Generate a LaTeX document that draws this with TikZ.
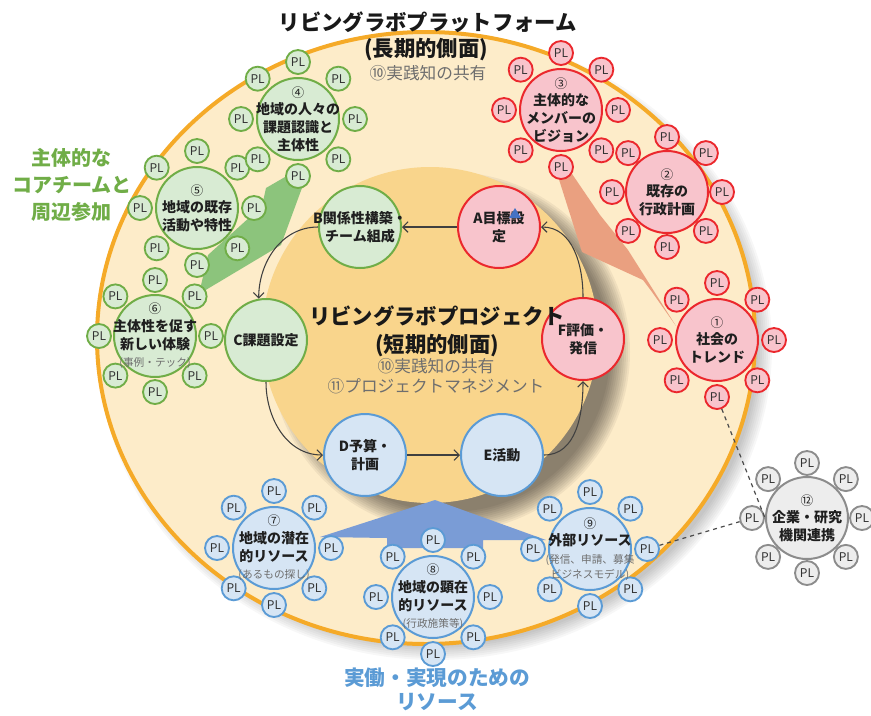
\documentclass[tikz,border=0pt]{standalone}
\usepackage{fontspec}
\setmainfont{Noto Sans CJK JP}
\usetikzlibrary{calc,arrows.meta}
\definecolor{orangeB}{RGB}{245,170,40}
\definecolor{outerF}{RGB}{253,236,201}
\definecolor{innerF}{RGB}{249,213,140}
\definecolor{gB}{RGB}{112,173,71}
\definecolor{gF}{RGB}{216,235,211}
\definecolor{rB}{RGB}{235,40,45}
\definecolor{rF}{RGB}{248,196,204}
\definecolor{bB}{RGB}{91,155,213}
\definecolor{bF}{RGB}{214,229,244}
\definecolor{kB}{RGB}{140,140,140}
\definecolor{kF}{RGB}{237,237,237}
\definecolor{gBolt}{RGB}{140,196,124}
\definecolor{rBolt}{RGB}{234,160,128}
\definecolor{bBolt}{RGB}{122,156,214}
\definecolor{gLabel}{RGB}{112,173,71}
\definecolor{bLabel}{RGB}{91,155,213}
\definecolor{subgray}{RGB}{110,110,110}
\definecolor{plText}{RGB}{50,50,50}
\definecolor{triBlue}{RGB}{68,114,196}
\tikzset{
  bigbase/.style={circle, line width=1.5pt, minimum size=61.5pt, inner sep=0pt},
  bigg/.style={bigbase, draw=gB, fill=gF},
  bigr/.style={bigbase, draw=rB, fill=rF},
  bigb/.style={bigbase, draw=bB, fill=bF},
  bigk/.style={bigbase, draw=kB, fill=kF},
  plbase/.style={circle, line width=1.4pt, minimum size=18pt, inner sep=0pt, text=plText, font=\fontsize{9}{10}\selectfont},
  plg/.style={plbase, draw=gB, fill=gF},
  plr/.style={plbase, draw=rB, fill=rF},
  plb/.style={plbase, draw=bB, fill=bF},
  plk/.style={plbase, draw=kB, fill=kF},
  ctext/.style={align=center, text=black!88, font=\bfseries\fontsize{10.5}{13.2}\selectfont},
  cyc/.style={draw=black!75, line width=0.8pt, -{Straight Barb[length=4pt,width=8pt]}},
  linkdash/.style={draw=black!70, line width=0.9pt, dashed},
}
\newcommand\numtxt[1]{{\mdseries\fontsize{9.5}{12}\selectfont #1}}
\newcommand\subtxt[1]{{\mdseries\fontsize{8}{10}\selectfont\color{subgray}#1}}
\newcommand\mkcluster[5]{%
  \foreach \i/\a in {1/0,2/45,3/90,4/135,5/180,6/225,7/270,8/315}{
    \node[pl#3] (#1-\i) at ($(#2)+(\a:#4)$) {PL};
  }
  \node[big#3] (#1) at (#2) {};
  \node[ctext] at (#1) {#5};
}
\begin{document}
\begin{tikzpicture}[x=0.75pt,y=-0.75pt]
\useasboundingbox (0,0) rectangle (871,715);
% outer ellipse with soft shadow
\foreach \k in {0,...,7}
  \fill[black,opacity=0.03] (435,347) ellipse [x radius={337-2*\k}, y radius={313-2*\k}];
\fill[outerF] (426,338) ellipse [x radius=329, y radius=306];
\draw[orangeB, line width=3pt] (426,338) ellipse [x radius=329, y radius=306];
% inner circle with shadow
\foreach \k in {0,...,10}
  \fill[black,opacity=0.05] (450,352) circle ({180-2*\k});
\fill[innerF] (430,335) circle (168);
% bolts
\fill[gBolt] (293,165) -- (306,177) -- (281,245) -- (199,294) -- (208,255)
  -- (262,206) -- (266,188) -- (285,177) -- cycle;
\fill[rBolt] (556,170) -- (568,168) -- (600,215) -- (628,250) -- (676,326)
  -- (652,292) -- (643,280) -- (582,252) -- cycle;
\fill[bBolt] (320,537) -- (435,500) -- (546,540) -- (483,540) -- (483,548)
  -- (387,548) -- (387,538) -- cycle;
% project cycle
\node[bigr] (A) at (499,227) {};
\node[bigg] (B) at (360,227) {};
\node[bigg] (C) at (266,340) {};
\node[bigb] (D) at (365,455) {};
\node[bigb] (E) at (502,455) {};
\node[bigr] (F) at (583,339) {};
\draw[cyc] (A.west) -- (B.east);
\draw[cyc] (B.west) to[out=180,in=90] (C.100);
\draw[cyc] (C.south) to[out=-90,in=180] (D.west);
\draw[cyc] (D.east) -- (E.west);
\draw[cyc] (E.east) to[out=0,in=-90] (F.south);
\draw[cyc] (F.north) to[out=90,in=0] (A.east);
\node[ctext] at (A) {A目標設\\定};
\fill[triBlue] (509,218) -- (515,208) -- (521,218) -- cycle;
\node[ctext] at (B) {B関係性構築・\\チーム組成};
\node[ctext] at (C) {C課題設定};
\node[ctext] at (D) {D予算・\\計画};
\node[ctext] at (E) {E活動};
\node[ctext] at (F) {F評価・\\発信};
% clusters
\mkcluster{c5}{197,208}{g}{57}{\numtxt{⑤}\\地域の既存\\活動や特性}
\mkcluster{c4}{298,119}{g}{57}{\numtxt{④}\\地域の人々の\\課題認識と\\主体性}
\mkcluster{c6}{155,336}{g}{56}{\numtxt{⑥}\\主体性を促す\\新しい体験\\\subtxt{(事例・テック)}}
\mkcluster{c2}{667,192}{r}{55}{\numtxt{②}\\既存の\\行政計画}
\mkcluster{c3}{561,110}{r}{57}{\numtxt{③}\\主体的な\\メンバーの\\ビジョン}
\mkcluster{c1}{717,340}{r}{57}{\numtxt{①}\\社会の\\トレンド}
\mkcluster{c7}{274,548}{b}{57}{\numtxt{⑦}\\地域の潜在\\的リソース\\\subtxt{(あるもの探し)}}
\mkcluster{c8}{433,597}{b}{57}{\numtxt{⑧}\\地域の顕在\\的リソース\\\subtxt{(行政施策等)}}
\mkcluster{c9}{590,549}{b}{57}{\numtxt{⑨}\\外部リソース\\\subtxt{(発信、申請、募集}\\[-2pt]\subtxt{ビジネスモデル)}}
\mkcluster{c12}{807,518}{k}{55}{\numtxt{⑫}\\企業・研究\\機関連携}
% dashed links
\draw[linkdash] (c1-3) -- (c12.west);
\draw[linkdash] (c9-1) -- (c12-5);
% titles and labels
\node[font=\bfseries\fontsize{16}{18}\selectfont, text=black!90] (title) at (428,22) {リビングラボプラットフォーム};
\node[font=\bfseries\fontsize{16}{18}\selectfont, text=black!90] (titleb) at (426,50) {(長期的側面)};
\node[font=\fontsize{12.5}{14}\selectfont, text=subgray] (titlec) at (428,73) {⑩実践知の共有};
\node[font=\bfseries\fontsize{16}{18}\selectfont, text=black!90] (proj) at (437,316) {リビングラボプロジェクト};
\node[font=\bfseries\fontsize{16}{18}\selectfont, text=black!90] (projb) at (437,346) {(短期的側面)};
\node[font=\fontsize{12.5}{14}\selectfont, text=subgray] (projc) at (436,366) {⑩実践知の共有};
\node[font=\fontsize{12.5}{14}\selectfont, text=subgray] (projd) at (436,386) {⑪プロジェクトマネジメント};
\node[align=center, text=gLabel, font=\bfseries\fontsize{15}{20.25}\selectfont] (glabel) at (72,185) {主体的な\\コアチームと\\周辺参加};
\node[align=center, text=bLabel, font=\bfseries\fontsize{15.5}{18}\selectfont] (blabel) at (437,689) {実働・実現のための\\リソース};
\end{tikzpicture}
\end{document}
